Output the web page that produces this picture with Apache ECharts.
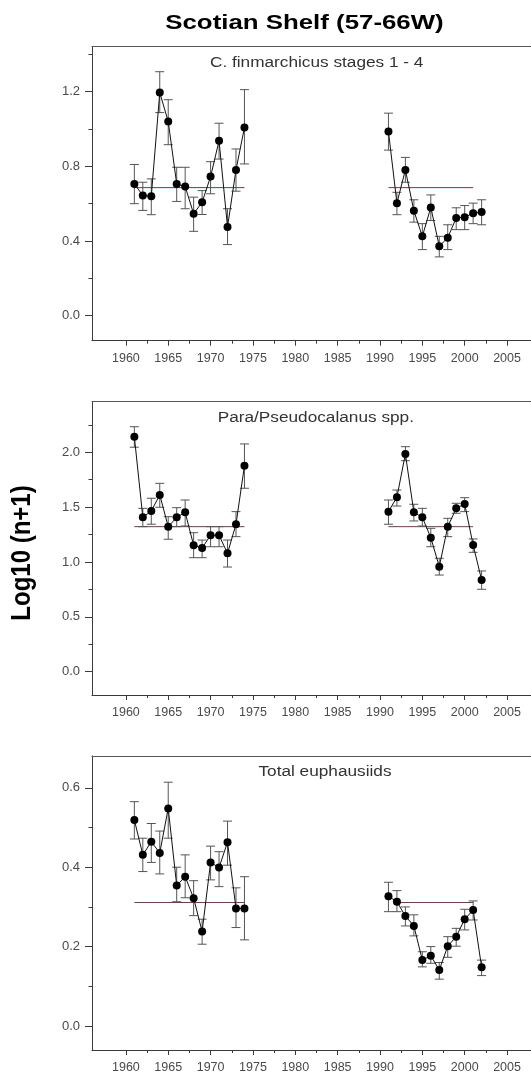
<!DOCTYPE html>
<html>
<head>
<meta charset="utf-8">
<script src="https://cdn.jsdelivr.net/npm/echarts@6/dist/echarts.min.js"></script>
<style>
html,body{margin:0;padding:0;background:#fff;}
#chart{width:531px;height:1074px;}
</style>
</head>
<body>
<div id="chart"></div>
<script>
// ---------- DATA ----------
const years1 = [1961,1962,1963,1964,1965,1966,1967,1968,1969,1970,1971,1972,1973,1974];
const years2 = [1991,1992,1993,1994,1995,1996,1997,1998,1999,2000,2001,2002];

// C. finmarchicus stages 1 - 4
const fin1   = [0.706,0.644,0.640,1.195,1.040,0.706,0.692,0.546,0.608,0.745,0.937,0.475,0.781,1.008];
const fin1Hi = [0.810,0.715,0.733,1.307,1.157,0.795,0.795,0.635,0.670,0.825,1.031,0.573,0.893,1.211];
const fin1Lo = [0.600,0.564,0.541,1.088,0.916,0.612,0.573,0.452,0.542,0.653,0.839,0.381,0.667,0.813];
const fin2   = [0.987,0.603,0.781,0.562,0.425,0.580,0.372,0.418,0.523,0.528,0.549,0.555];
const fin2Hi = [1.085,0.661,0.848,0.621,0.493,0.647,0.425,0.487,0.578,0.590,0.603,0.621];
const fin2Lo = [0.887,0.541,0.715,0.501,0.354,0.510,0.315,0.354,0.461,0.461,0.493,0.487];
const finMean = 0.686;
const finMeanSpans = [[1961,1974],[1991,2001]];

// Para/Pseudocalanus spp.
const par1   = [2.142,1.407,1.465,1.611,1.322,1.407,1.453,1.152,1.128,1.243,1.243,1.079,1.344,1.878];
const par1Hi = [2.233,1.489,1.581,1.717,1.413,1.495,1.565,1.267,1.200,1.322,1.322,1.200,1.459,2.076];
const par1Lo = [2.046,1.322,1.344,1.499,1.207,1.322,1.328,1.039,1.039,1.139,1.139,0.954,1.231,1.672];
const par2   = [1.459,1.590,1.985,1.453,1.407,1.222,0.957,1.322,1.489,1.529,1.155,0.836];
const par2Hi = [1.565,1.656,2.051,1.526,1.489,1.307,1.034,1.398,1.535,1.586,1.210,0.918];
const par2Lo = [1.344,1.510,1.923,1.374,1.328,1.139,0.881,1.231,1.444,1.459,1.088,0.751];
const parMean = 1.322;
const parMeanSpans = [[1961,1974],[1991,2001]];

// Total euphausiids
const eup1   = [0.519,0.431,0.464,0.436,0.548,0.354,0.376,0.322,0.238,0.412,0.399,0.463,0.296,0.296];
const eup1Hi = [0.565,0.473,0.510,0.491,0.614,0.400,0.431,0.366,0.269,0.453,0.439,0.516,0.348,0.376];
const eup1Lo = [0.471,0.389,0.412,0.383,0.473,0.313,0.323,0.278,0.206,0.368,0.351,0.405,0.248,0.217];
const eup2   = [0.327,0.313,0.277,0.252,0.166,0.177,0.141,0.201,0.225,0.269,0.292,0.148];
const eup2Hi = [0.362,0.341,0.300,0.280,0.187,0.200,0.160,0.225,0.246,0.294,0.315,0.166];
const eup2Lo = [0.288,0.288,0.252,0.227,0.149,0.158,0.118,0.173,0.201,0.242,0.267,0.127];
const eupMean = 0.311;
const eupMeanSpans = [[1961,1974],[1992,2001]];

// Tick labels
const xMajorTicks = [1960,1965,1970,1975,1980,1985,1990,1995,2000,2005];
const xMinorTicks = [1962.5,1967.5,1972.5,1977.5,1982.5,1987.5,1992.5,1997.5,2002.5];
const finYMajor = [0, 0.4, 0.8, 1.2];
const finYMinor = [0.2, 0.6, 1.0, 1.4];
const parYMajor = [0, 0.5, 1.0, 1.5, 2.0];
const parYMinor = [0.25, 0.75, 1.25, 1.75, 2.25];
const eupYMajor = [0, 0.2, 0.4, 0.6];
const eupYMinor = [0.1, 0.3, 0.5];

const mainTitle = 'Scotian Shelf (57-66W)';
const yTitle = 'Log10 (n+1)';
const panelTitles = ['C. finmarchicus stages 1 - 4', 'Para/Pseudocalanus spp.', 'Total euphausiids'];

// ---------- LAYOUT ----------
const FONT = '"Liberation Sans", Arial, sans-serif';
const AXIS_COLOR = '#3a3a3a';
const LABEL_COLOR = '#4a4a4a';
const MEAN_COLOR = '#6e3b4e';
const ERR_COLOR = '#555';

const panels = [
  {top: 46.7, height: 294, ymin: -0.134, ymax: 1.441, major: finYMajor, minor: finYMinor,
   s1: fin1, s1Hi: fin1Hi, s1Lo: fin1Lo, s2: fin2, s2Hi: fin2Hi, s2Lo: fin2Lo, mean: finMean, spans: finMeanSpans,
   title: panelTitles[0], tx: 316.7, ty: 62.7},
  {top: 401.7, height: 293.3, ymin: -0.2124, ymax: 2.461, major: parYMajor, minor: parYMinor,
   s1: par1, s1Hi: par1Hi, s1Lo: par1Lo, s2: par2, s2Hi: par2Hi, s2Lo: par2Lo, mean: parMean, spans: parMeanSpans,
   title: panelTitles[1], tx: 315.8, ty: 418.3},
  {top: 756, height: 294, ymin: -0.0604, ymax: 0.680, major: eupYMajor, minor: eupYMinor,
   s1: eup1, s1Hi: eup1Hi, s1Lo: eup1Lo, s2: eup2, s2Hi: eup2Hi, s2Lo: eup2Lo, mean: eupMean, spans: eupMeanSpans,
   title: panelTitles[2], tx: 325, ty: 771.7}
];

const GRID_LEFT = 92;
const PX_PER_YEAR = 8.47;
const GRID_WIDTH = 439;                 // runs to the right edge of the canvas (no right border)
const X_MIN = 1956;
const X_MAX = X_MIN + GRID_WIDTH / PX_PER_YEAR;

function errRender(params, api) {
  const x = api.value(0), lo = api.value(1), hi = api.value(2);
  const pLo = api.coord([x, lo]);
  const pHi = api.coord([x, hi]);
  const w = 4.5;
  const st = {stroke: ERR_COLOR, lineWidth: 1};
  return {type: 'group', children: [
    {type: 'line', shape: {x1: pLo[0], y1: pLo[1], x2: pHi[0], y2: pHi[1]}, style: st},
    {type: 'line', shape: {x1: pLo[0]-w, y1: pLo[1], x2: pLo[0]+w, y2: pLo[1]}, style: st},
    {type: 'line', shape: {x1: pHi[0]-w, y1: pHi[1], x2: pHi[0]+w, y2: pHi[1]}, style: st}
  ]};
}

const grid = [], xAxis = [], yAxis = [], series = [], graphic = [];

panels.forEach((p, i) => {
  grid.push({left: GRID_LEFT, top: p.top, width: GRID_WIDTH, height: p.height, show: false});
  // major x (bottom)
  xAxis.push({type: 'value', gridIndex: i, min: X_MIN, max: X_MAX, position: 'bottom',
    axisLine: {show: true, onZero: false, lineStyle: {color: AXIS_COLOR, width: 1}},
    axisTick: {show: true, length: 5, inside: false, customValues: xMajorTicks, lineStyle: {color: AXIS_COLOR}},
    axisLabel: {show: true, customValues: xMajorTicks, margin: 11, color: LABEL_COLOR, fontSize: 12.5, fontFamily: FONT,
      formatter: v => String(Math.round(v))},
    splitLine: {show: false}});
  // minor x
  xAxis.push({type: 'value', gridIndex: i, min: X_MIN, max: X_MAX, position: 'bottom',
    axisLine: {show: false, onZero: false},
    axisTick: {show: true, length: 3, customValues: xMinorTicks, lineStyle: {color: AXIS_COLOR}},
    axisLabel: {show: false}, splitLine: {show: false}});
  // top frame line
  xAxis.push({type: 'value', gridIndex: i, min: X_MIN, max: X_MAX, position: 'top',
    axisLine: {show: true, onZero: false, lineStyle: {color: '#555', width: 1}},
    axisTick: {show: false}, axisLabel: {show: false}, splitLine: {show: false}});
  // major y
  yAxis.push({type: 'value', gridIndex: i, min: p.ymin, max: p.ymax, position: 'left',
    axisLine: {show: true, onZero: false, lineStyle: {color: AXIS_COLOR, width: 1}},
    axisTick: {show: true, length: 7, customValues: p.major, lineStyle: {color: AXIS_COLOR}},
    axisLabel: {show: true, customValues: p.major, margin: 12, color: LABEL_COLOR, fontSize: 13, fontFamily: FONT,
      formatter: v => v.toFixed(1)},
    splitLine: {show: false}});
  // minor y
  yAxis.push({type: 'value', gridIndex: i, min: p.ymin, max: p.ymax, position: 'left',
    axisLine: {show: false, onZero: false},
    axisTick: {show: true, length: 3.5, customValues: p.minor, lineStyle: {color: AXIS_COLOR}},
    axisLabel: {show: false}, splitLine: {show: false}});

  const xi = 3*i, yi = 2*i;
  // mean lines
  p.spans.forEach(sp => {
    series.push({type: 'line', xAxisIndex: xi, yAxisIndex: yi, symbol: 'none', silent: true,
      lineStyle: {color: MEAN_COLOR, width: 1}, z: 2,
      data: [[sp[0], p.mean], [sp[1], p.mean]]});
  });
  // error bars
  [[years1, p.s1Lo, p.s1Hi], [years2, p.s2Lo, p.s2Hi]].forEach(([yrs, lo, hi]) => {
    series.push({type: 'custom', xAxisIndex: xi, yAxisIndex: yi, renderItem: errRender, silent: true, z: 3,
      encode: {x: 0, y: [1, 2]},
      data: yrs.map((y, k) => [y, lo[k], hi[k]])});
  });
  // data lines with markers
  [[years1, p.s1], [years2, p.s2]].forEach(([yrs, vals]) => {
    series.push({type: 'line', xAxisIndex: xi, yAxisIndex: yi, symbol: 'circle', symbolSize: 8,
      showAllSymbol: true, silent: true, z: 4,
      itemStyle: {color: '#000', borderWidth: 0},
      lineStyle: {color: '#111', width: 1},
      data: yrs.map((y, k) => [y, vals[k]])});
  });

  graphic.push({type: 'text', x: p.tx, y: p.ty, scaleX: 1.23, z: 10,
    style: {text: p.title, fontSize: 14, fontFamily: FONT, fill: '#333', align: 'center', verticalAlign: 'middle'}});
});

graphic.push({type: 'text', x: 304.5, y: 23, scaleX: 1.23, z: 10,
  style: {text: mainTitle, fontSize: 21, fontWeight: 'bold', fontFamily: FONT, fill: '#000', align: 'center', verticalAlign: 'middle'}});
graphic.push({type: 'text', x: 23, y: 553, rotation: Math.PI/2, scaleY: 1.12, z: 10,
  style: {text: yTitle, fontSize: 24, fontWeight: 'bold', fontFamily: FONT, fill: '#000', align: 'center', verticalAlign: 'middle'}});

const chart = echarts.init(document.getElementById('chart'), null, {renderer: 'canvas'});
chart.setOption({
  animation: false,
  backgroundColor: '#fff',
  grid, xAxis, yAxis, series, graphic
});
</script>
</body>
</html>
